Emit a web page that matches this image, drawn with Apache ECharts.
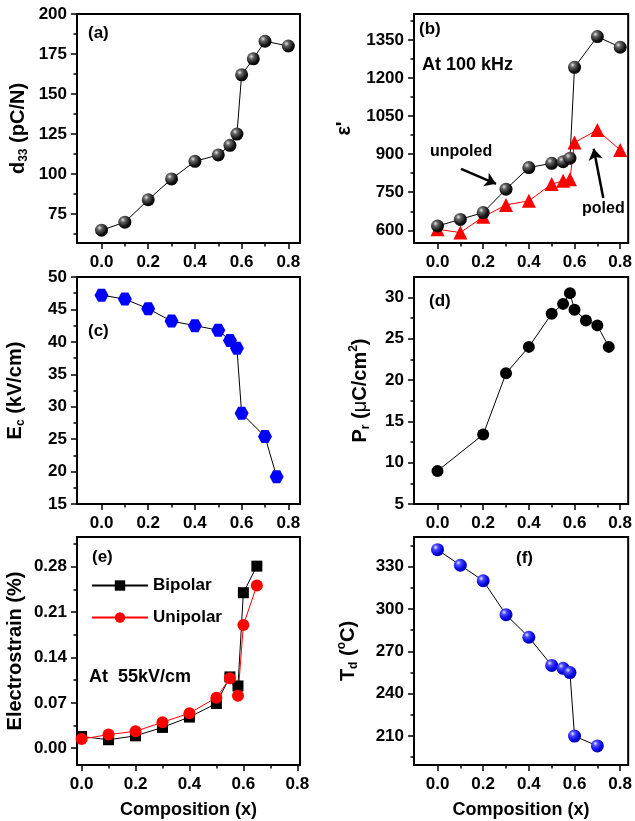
<!DOCTYPE html>
<html><head><meta charset="utf-8">
<script src="https://cdn.jsdelivr.net/npm/echarts@6/dist/echarts.min.js"></script>
<style>html,body{margin:0;padding:0;background:#fff}#c{width:635px;height:821px}</style>
</head><body><div id="c"></div>
<script>
// ---------- data ----------
const xD33 = [0, 0.1, 0.2, 0.3, 0.4, 0.5, 0.55, 0.58, 0.6, 0.65, 0.7, 0.8];
const d33 = [65, 70, 84, 97, 108, 112, 118, 125, 162, 172, 183, 180];

const xEps = [0, 0.1, 0.2, 0.3, 0.4, 0.5, 0.55, 0.58, 0.6, 0.7, 0.8];
const epsUnpoled = [617, 643, 670, 762, 847, 864, 870, 884, 1242, 1363, 1321];
const epsPoled = [604, 591, 653, 700, 716, 782, 795, 801, 946, 995, 916];

const xEc = [0, 0.1, 0.2, 0.3, 0.4, 0.5, 0.55, 0.58, 0.6, 0.7, 0.75];
const ec = [47.2, 46.6, 45.1, 43.2, 42.5, 41.8, 40.2, 39.0, 29.0, 25.4, 19.2];

const xPr = [0, 0.2, 0.3, 0.4, 0.5, 0.55, 0.58, 0.6, 0.65, 0.7, 0.75];
const pr = [9.0, 13.4, 20.8, 24.0, 28.0, 29.2, 30.5, 28.5, 27.2, 26.6, 24.0];

const xStrain = [0, 0.1, 0.2, 0.3, 0.4, 0.5, 0.55, 0.58, 0.6, 0.65];
const bipolar = [0.018, 0.013, 0.019, 0.032, 0.048, 0.069, 0.110, 0.096, 0.240, 0.281];
const unipolar = [0.014, 0.021, 0.026, 0.040, 0.054, 0.078, 0.108, 0.081, 0.190, 0.251];

const xTd = [0, 0.1, 0.2, 0.3, 0.4, 0.5, 0.55, 0.58, 0.6, 0.7];
const td = [342, 331, 320, 296, 280, 260, 258, 255, 210, 203];

// ---------- ticks ----------
const xTicks = [0, 0.2, 0.4, 0.6, 0.8];
const xMinorTicks = [0.1, 0.3, 0.5, 0.7];
const d33Ticks = [75, 100, 125, 150, 175, 200];
const d33Minor = [62.5, 87.5, 112.5, 137.5, 162.5, 187.5];
const epsTicks = [600, 750, 900, 1050, 1200, 1350];
const epsMinor = [675, 825, 975, 1125, 1275, 1425];
const ecTicks = [15, 20, 25, 30, 35, 40, 45, 50];
const ecMinor = [17.5, 22.5, 27.5, 32.5, 37.5, 42.5, 47.5];
const prTicks = [5, 10, 15, 20, 25, 30];
const prMinor = [7.5, 12.5, 17.5, 22.5, 27.5];
const strainTicks = [0, 0.07, 0.14, 0.21, 0.28];
const strainMinor = [0.035, 0.105, 0.175, 0.245, 0.315];
const tdTicks = [210, 240, 270, 300, 330];
const tdMinor = [195, 225, 255, 285, 315, 345];

// ---------- styling ----------
const FF = '"Liberation Sans", Arial, sans-serif';
const blackSphere = {type:'radial', x:0.35, y:0.32, r:0.75, colorStops:[
  {offset:0, color:'#e8e8e8'}, {offset:0.25, color:'#666'}, {offset:0.7, color:'#111'}, {offset:1, color:'#000'}]};
const blueSphere = {type:'radial', x:0.35, y:0.32, r:0.75, colorStops:[
  {offset:0, color:'#e8e8ff'}, {offset:0.25, color:'#4a4aff'}, {offset:0.7, color:'#0000e0'}, {offset:1, color:'#0000a0'}]};
const hexPath = 'path://M0,43.3 L25,0 L75,0 L100,43.3 L75,86.6 L25,86.6 Z';

const grids = [
  {left:77, top:14, width:223, height:229},
  {left:414, top:14, width:219, height:229},
  {left:77, top:277, width:223, height:227},
  {left:414, top:277, width:219, height:227},
  {left:77, top:537, width:223, height:228},
  {left:414, top:537, width:219, height:228}
];

const richT = {
  t:{fontFamily:FF, fontWeight:'bold', fontSize:20, color:'#000', lineHeight:24},
  s:{fontFamily:FF, fontWeight:'bold', fontSize:12, color:'#000', lineHeight:12, verticalAlign:'bottom'},
  p:{fontFamily:FF, fontWeight:'bold', fontSize:12, color:'#000', lineHeight:12, verticalAlign:'top'},
  g:{fontFamily:FF, fontWeight:'normal', fontSize:20, color:'#000', lineHeight:24}
};

const cfg = [
  {xr:[-0.105,0.85], yr:[57,200], yMaj:d33Ticks, yMin:d33Minor, dec:0,
   name:'{t|d}{s|33}{t| (pC/N)}', gap:47, xName:''},
  {xr:[-0.103,0.835], yr:[550,1452], yMaj:epsTicks, yMin:epsMinor, dec:0,
   name:"{t|ε'}", gap:58, xName:''},
  {xr:[-0.105,0.85], yr:[15,50], yMaj:ecTicks, yMin:ecMinor, dec:0,
   name:'{t|E}{s|c}{t| (kV/cm)}', gap:50, xName:''},
  {xr:[-0.103,0.835], yr:[5,32.45], yMaj:prTicks, yMin:prMinor, dec:0,
   name:'{t|P}{s|r}{t| (}{g|μ}{t|C/cm}{p|2}{t|)}', gap:42, xName:''},
  {xr:[-0.017,0.81], yr:[-0.026,0.326], yMaj:strainTicks, yMin:strainMinor, dec:2,
   name:'{t|Electrostrain (%)}', gap:50, xName:'Composition (x)'},
  {xr:[-0.103,0.835], yr:[189.5,351], yMaj:tdTicks, yMin:tdMinor, dec:0,
   name:'{t|T}{s|d}{t| (}{p|o}{t|C)}', gap:54, xName:'Composition (x)'}
];

const lblStyle = {fontFamily:FF, fontWeight:'bold', fontSize:17, color:'#000'};
const xAxes = [], yAxes = [];
cfg.forEach((c, i) => {
  xAxes.push({type:'value', gridIndex:i, min:c.xr[0], max:c.xr[1], position:'bottom',
    axisLine:{show:true, onZero:false, lineStyle:{color:'#000', width:2}},
    axisTick:{show:true, customValues:xTicks, length:6, lineStyle:{color:'#000', width:1.5}},
    axisLabel:Object.assign({show:true, customValues:xTicks, margin:11, formatter:v => Number(v).toFixed(1)}, lblStyle),
    splitLine:{show:false},
    name:c.xName, nameLocation:'middle', nameGap:36,
    nameTextStyle:{fontFamily:FF, fontWeight:'bold', fontSize:18, color:'#000'}});
  xAxes.push({type:'value', gridIndex:i, min:c.xr[0], max:c.xr[1], position:'bottom',
    axisLine:{show:false, onZero:false}, axisTick:{show:true, customValues:xMinorTicks, length:3.5, lineStyle:{color:'#000', width:1.5}},
    axisLabel:{show:false}, splitLine:{show:false}});
  yAxes.push({type:'value', gridIndex:i, min:c.yr[0], max:c.yr[1], position:'left',
    axisLine:{show:true, onZero:false, lineStyle:{color:'#000', width:2}},
    axisTick:{show:true, customValues:c.yMaj, length:6, lineStyle:{color:'#000', width:1.5}},
    axisLabel:Object.assign({show:true, customValues:c.yMaj, margin:10, formatter:v => Number(v).toFixed(c.dec)}, lblStyle),
    splitLine:{show:false},
    name:c.name, nameLocation:'middle', nameGap:c.gap, nameRotate:90,
    nameTextStyle:{rich:richT}});
  yAxes.push({type:'value', gridIndex:i, min:c.yr[0], max:c.yr[1], position:'left',
    axisLine:{show:false, onZero:false}, axisTick:{show:true, customValues:c.yMin, length:3.5, lineStyle:{color:'#000', width:1.5}},
    axisLabel:{show:false}, splitLine:{show:false}});
});

const pairs = (xs, ys) => xs.map((x, k) => [x, ys[k]]);
const base = (i) => ({type:'line', xAxisIndex:2*i, yAxisIndex:2*i, z:3, animation:false});

const series = [
  Object.assign(base(0), {name:'d33', data:pairs(xD33, d33), symbol:'circle', symbolSize:13,
    itemStyle:{color:blackSphere}, lineStyle:{color:'#000', width:1}}),
  Object.assign(base(1), {name:'poled', data:pairs(xEps, epsPoled), symbol:'triangle', symbolSize:14,
    itemStyle:{color:'#ff0000'}, lineStyle:{color:'#ff0000', width:1}}),
  Object.assign(base(1), {name:'unpoled', data:pairs(xEps, epsUnpoled), symbol:'circle', symbolSize:13,
    itemStyle:{color:blackSphere}, lineStyle:{color:'#000', width:1},
    markLine:{silent:true, symbol:['none','arrow'], symbolSize:11, animation:false,
      label:{show:false}, lineStyle:{color:'#000', width:2.5, type:'solid'},
      data:[[{coord:[0.103, 842]}, {coord:[0.256, 783]}], [{coord:[0.726, 727]}, {coord:[0.684, 921]}]]}}),
  Object.assign(base(2), {name:'Ec', data:pairs(xEc, ec), symbol:hexPath, symbolSize:[14,13],
    itemStyle:{color:'#0000ff'}, lineStyle:{color:'#000', width:1}}),
  Object.assign(base(3), {name:'Pr', data:pairs(xPr, pr), symbol:'circle', symbolSize:12,
    itemStyle:{color:'#000'}, lineStyle:{color:'#000', width:1}}),
  Object.assign(base(4), {name:'Bipolar', data:pairs(xStrain, bipolar), symbol:'rect', symbolSize:11,
    itemStyle:{color:'#000'}, lineStyle:{color:'#000', width:1}}),
  Object.assign(base(4), {name:'Unipolar', data:pairs(xStrain, unipolar), symbol:'circle', symbolSize:12,
    itemStyle:{color:'#ff0000'}, lineStyle:{color:'#ff0000', width:1}}),
  Object.assign(base(5), {name:'Td', data:pairs(xTd, td), symbol:'circle', symbolSize:13,
    itemStyle:{color:blueSphere}, lineStyle:{color:'#000', width:1}})
];

const note = (text, x, y, size) => ({type:'text', x:x, y:y, z:10,
  style:{text:text, font:'bold ' + size + 'px ' + FF, fill:'#000', verticalAlign:'middle', align:'left'}});

const option = {
  animation:false,
  backgroundColor:'#fff',
  grid: grids.map(g => Object.assign({show:true, borderColor:'#000', borderWidth:2, backgroundColor:'transparent'}, g)),
  xAxis: xAxes,
  yAxis: yAxes,
  legend: {data:['Bipolar','Unipolar'], orient:'vertical', left:86, top:572, itemWidth:56, itemHeight:13, itemGap:15,
    textStyle:{fontFamily:FF, fontWeight:'bold', fontSize:17, color:'#000'}},
  series: series,
  graphic: [
    note('(a)', 88, 33, 17),
    note('(b)', 419, 29, 17),
    note('At 100 kHz', 422, 65, 18),
    note('unpoled', 430, 152, 16),
    note('poled', 582, 209, 16),
    note('(c)', 88, 331, 17),
    note('(d)', 429, 301, 17),
    note('(e)', 92, 557, 17),
    note('At  55kV/cm', 89, 677, 18),
    note('(f)', 516, 558, 17)
  ]
};
const chart = echarts.init(document.getElementById('c'));
chart.setOption(option);
</script>
</body></html>
